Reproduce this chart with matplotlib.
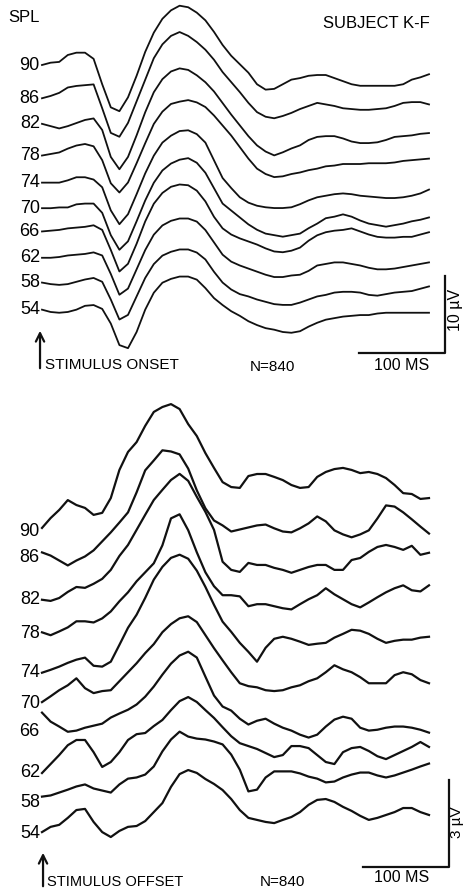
import matplotlib.pyplot as plt
import numpy as np

plt.rcParams['font.family'] = ['Liberation Sans', 'DejaVu Sans']

# time after stimulus (ms), shared by every trace
time_ms = np.arange(0, 460, 10)
spl_levels = [90, 86, 82, 78, 74, 70, 66, 62, 58, 54]

# onset responses, uV relative to each trace's stacking line (positive = up)
onset_90 = [0.0, 0.3, 0.4, 1.3, 1.6, 1.6, 0.8, -2.5, -5.5, -6.0, -4.2, -1.4, 1.7, 4.2, 6.0, 7.1, 7.7, 7.5, 6.8, 5.8,
            4.3, 2.6, 1.2, 0.1, -1.0, -2.5, -3.2, -3.1, -2.5, -1.9, -1.7, -1.4, -1.3, -1.3, -1.7, -2.1, -2.5, -2.7, -2.7, -2.7,
            -2.7, -2.7, -2.5, -1.9, -1.6, -1.2]
onset_86 = [-0.8, -0.5, -0.1, 0.6, 0.8, 0.9, 1.0, -2.1, -5.3, -5.8, -4.0, -1.2, 1.6, 4.4, 6.2, 7.3, 7.8, 7.3, 6.5, 5.5,
            4.2, 2.6, 1.3, 0.0, -1.4, -2.6, -3.2, -3.4, -3.1, -2.7, -2.2, -1.8, -1.4, -1.6, -1.8, -2.1, -2.2, -2.3, -2.3, -2.2,
            -2.1, -1.8, -1.4, -1.3, -1.3, -1.6]
onset_82 = [-0.6, -0.9, -1.2, -0.9, -0.5, -0.1, 0.1, -1.4, -4.9, -6.5, -4.9, -2.1, 0.9, 3.5, 5.2, 6.2, 6.6, 6.4, 5.7, 4.8,
            3.6, 2.1, 0.6, -0.8, -2.2, -3.4, -4.2, -4.7, -4.3, -3.8, -3.4, -2.7, -2.3, -2.2, -2.2, -2.5, -2.9, -3.1, -3.1, -3.0,
            -2.7, -2.3, -2.2, -2.1, -1.9, -1.8]
onset_78 = [-1.2, -1.0, -0.8, -0.3, 0.1, 0.3, 0.0, -1.8, -4.8, -6.0, -4.7, -2.2, 0.4, 2.9, 4.5, 5.5, 5.8, 6.0, 5.7, 5.1,
            4.0, 2.7, 1.4, -0.1, -1.6, -2.9, -3.6, -4.0, -3.9, -3.6, -3.4, -3.1, -2.9, -2.6, -2.5, -2.3, -2.3, -2.3, -2.2, -2.2,
            -2.2, -2.1, -1.9, -1.8, -1.7, -1.6]
onset_74 = [-1.2, -1.2, -1.2, -0.9, -0.5, -0.5, -0.8, -1.8, -4.8, -6.6, -5.3, -2.7, 0.0, 2.3, 4.0, 4.9, 5.5, 5.6, 5.1, 4.0,
            1.7, -0.6, -1.9, -3.1, -3.8, -4.2, -4.4, -4.5, -4.5, -4.4, -4.0, -3.5, -3.1, -2.9, -2.7, -2.6, -2.7, -2.9, -3.0, -3.1,
            -3.2, -3.2, -3.1, -2.9, -2.6, -2.1]
onset_70 = [-1.0, -1.0, -0.9, -0.9, -0.5, -0.4, -0.4, -1.6, -4.5, -6.4, -5.3, -2.7, 0.0, 2.3, 3.9, 4.8, 5.3, 5.5, 4.9, 3.6,
            1.6, -0.4, -1.3, -2.2, -3.1, -3.8, -4.3, -4.5, -4.7, -4.5, -4.3, -3.6, -3.0, -2.3, -2.1, -1.8, -2.1, -2.6, -3.0, -3.2,
            -3.4, -3.2, -3.0, -2.7, -2.5, -2.2]
onset_66 = [-0.5, -0.4, -0.3, -0.1, 0.0, 0.1, 0.3, -0.3, -2.9, -5.7, -4.7, -2.1, 0.8, 3.1, 4.5, 5.3, 5.6, 5.5, 4.8, 3.4,
            1.4, -0.1, -0.9, -1.4, -1.8, -2.2, -2.7, -3.1, -3.2, -3.0, -2.6, -1.7, -1.0, -0.6, -0.4, -0.3, -0.1, -0.5, -0.9, -1.2,
            -1.3, -1.3, -1.2, -1.2, -0.9, -0.6]
onset_62 = [-0.4, -0.4, -0.3, -0.1, 0.0, 0.1, 0.3, -0.1, -2.5, -5.2, -4.4, -1.9, 0.6, 2.6, 3.8, 4.4, 4.7, 4.7, 4.3, 3.2,
            1.6, 0.0, -0.9, -1.4, -1.8, -2.2, -2.6, -2.9, -2.9, -2.7, -2.6, -2.1, -1.4, -1.2, -1.0, -1.0, -1.2, -1.4, -1.7, -1.9,
            -1.9, -1.8, -1.6, -1.4, -1.2, -1.0]
onset_58 = [-0.1, -0.3, -0.4, -0.3, 0.0, 0.3, 0.5, 0.0, -2.3, -4.9, -4.3, -1.9, 0.5, 2.3, 3.4, 3.9, 4.2, 4.2, 3.8, 2.9,
            1.3, -0.1, -1.0, -1.6, -1.9, -2.3, -2.6, -2.9, -3.0, -3.0, -2.7, -2.3, -1.9, -1.7, -1.4, -1.3, -1.3, -1.4, -1.7, -1.8,
            -1.6, -1.4, -1.3, -1.2, -0.9, -0.6]
onset_54 = [-0.1, -0.4, -0.5, -0.4, -0.1, 0.4, 0.5, 0.0, -1.9, -4.7, -5.1, -3.0, -0.1, 2.1, 3.4, 3.9, 4.2, 4.2, 3.8, 2.7,
            1.4, 0.5, -0.3, -0.9, -1.6, -2.1, -2.5, -2.7, -3.0, -3.1, -2.9, -2.3, -1.8, -1.4, -1.2, -1.0, -0.9, -0.8, -0.8, -0.6,
            -0.5, -0.5, -0.5, -0.5, -0.5, -0.5]

# offset responses, uV relative to each trace's stacking line
offset_90 = [0.14, 0.48, 0.76, 1.10, 0.93, 0.83, 0.59, 0.66, 1.17, 2.14, 2.76, 3.10, 3.66, 4.14, 4.31, 4.41, 4.24, 3.72, 3.31, 2.72,
             2.21, 1.72, 1.55, 1.52, 1.93, 2.00, 2.00, 1.90, 1.79, 1.62, 1.52, 1.55, 1.90, 2.07, 2.17, 2.21, 2.14, 2.03, 2.07, 2.00,
             1.86, 1.62, 1.34, 1.31, 1.14, 1.17]
offset_86 = [0.45, 0.34, 0.17, 0.00, 0.17, 0.31, 0.52, 0.83, 1.14, 1.48, 1.83, 2.52, 3.28, 3.62, 3.97, 3.93, 3.83, 3.34, 2.59, 1.97,
             1.55, 1.38, 1.17, 1.24, 1.31, 1.38, 1.41, 1.28, 1.17, 1.14, 1.28, 1.45, 1.69, 1.52, 1.21, 1.07, 0.97, 1.07, 1.21, 1.62,
             2.07, 2.03, 1.83, 1.59, 1.34, 1.10]
offset_82 = [-0.03, -0.07, 0.03, 0.24, 0.41, 0.38, 0.52, 0.69, 1.00, 1.48, 1.86, 2.38, 2.90, 3.41, 3.76, 4.10, 4.31, 4.07, 3.52, 3.00,
             2.38, 1.28, 1.00, 0.93, 1.24, 1.17, 1.17, 1.07, 1.00, 0.90, 1.00, 1.10, 1.17, 1.17, 1.00, 1.00, 1.34, 1.41, 1.62, 1.79,
             1.86, 1.79, 1.69, 1.83, 1.52, 1.59]
offset_78 = [0.00, -0.10, 0.03, 0.17, 0.38, 0.38, 0.34, 0.48, 0.72, 1.07, 1.38, 1.76, 2.07, 2.38, 3.00, 3.93, 4.07, 3.52, 2.76, 2.07,
             1.59, 1.28, 1.28, 1.24, 0.90, 0.97, 0.97, 0.90, 0.83, 0.79, 0.97, 1.14, 1.28, 1.52, 1.31, 1.14, 0.97, 0.86, 1.03, 1.21,
             1.38, 1.52, 1.62, 1.45, 1.41, 1.62]
offset_74 = [-0.24, -0.14, -0.03, 0.10, 0.21, 0.28, 0.00, -0.03, 0.14, 0.72, 1.31, 1.76, 2.34, 2.97, 3.41, 3.72, 3.83, 3.69, 3.28, 2.72,
             2.10, 1.52, 1.17, 0.79, 0.48, 0.14, 0.62, 0.93, 1.00, 0.93, 0.83, 0.72, 0.76, 0.79, 0.97, 1.10, 1.24, 1.21, 1.10, 0.93,
             0.79, 0.86, 0.90, 0.90, 0.97, 1.00]
offset_70 = [-0.10, 0.10, 0.31, 0.48, 0.72, 0.38, 0.21, 0.28, 0.31, 0.62, 0.93, 1.24, 1.59, 1.90, 2.31, 2.59, 2.79, 2.86, 2.66, 2.21,
             1.76, 1.34, 0.93, 0.55, 0.45, 0.41, 0.31, 0.28, 0.31, 0.41, 0.48, 0.62, 0.72, 0.93, 1.17, 1.03, 0.93, 0.76, 0.55, 0.55,
             0.55, 0.83, 0.93, 0.86, 0.66, 0.55]
offset_66 = [0.69, 0.38, 0.21, 0.03, 0.07, 0.17, 0.24, 0.31, 0.52, 0.66, 0.79, 0.97, 1.24, 1.59, 2.00, 2.38, 2.66, 2.79, 2.59, 1.93,
             1.28, 0.90, 0.76, 0.48, 0.28, 0.41, 0.48, 0.31, 0.17, 0.07, -0.07, -0.17, -0.07, 0.21, 0.45, 0.55, 0.48, 0.17, 0.07, 0.10,
             0.17, 0.21, 0.21, 0.17, 0.10, 0.00]
offset_62 = [-0.24, 0.07, 0.38, 0.72, 0.90, 0.90, 0.48, -0.03, 0.14, 0.48, 0.90, 1.10, 1.14, 1.38, 1.59, 1.93, 2.24, 2.38, 2.21, 1.93,
             1.66, 1.34, 1.03, 0.79, 0.69, 0.59, 0.45, 0.31, 0.38, 0.69, 0.69, 0.62, 0.38, 0.14, 0.07, 0.48, 0.62, 0.66, 0.52, 0.34,
             0.24, 0.38, 0.52, 0.66, 0.83, 0.66]
offset_58 = [0.10, 0.14, 0.24, 0.34, 0.45, 0.52, 0.38, 0.31, 0.24, 0.52, 0.72, 0.76, 0.86, 1.14, 1.66, 2.07, 2.34, 2.17, 2.10, 2.07,
             2.00, 1.90, 1.55, 1.03, 0.28, 0.34, 0.76, 0.97, 0.97, 0.97, 0.90, 0.79, 0.72, 0.59, 0.62, 0.76, 0.86, 0.93, 0.93, 0.83,
             0.76, 0.83, 0.93, 1.03, 1.14, 1.24]
offset_54 = [0.03, 0.21, 0.28, 0.52, 0.79, 0.83, 0.38, 0.03, -0.14, 0.07, 0.21, 0.24, 0.41, 0.72, 1.03, 1.59, 2.03, 2.17, 2.07, 1.86,
             1.69, 1.48, 1.17, 0.79, 0.52, 0.45, 0.38, 0.34, 0.45, 0.55, 0.72, 0.97, 1.14, 1.17, 1.07, 0.90, 0.76, 0.59, 0.45, 0.52,
             0.62, 0.72, 0.86, 0.86, 0.72, 0.62]

onset = [onset_90, onset_86, onset_82, onset_78, onset_74, onset_70, onset_66, onset_62, onset_58, onset_54]
offset = [offset_90, offset_86, offset_82, offset_78, offset_74, offset_70, offset_66, offset_62, offset_58, offset_54]

# page geometry in pixels
W, H = 464, 893
X0 = 42          # stimulus time on the page
PX_MS = 0.86     # px per ms

# how far (px) each SPL label sits below its trace's first point
onset_label_drop = [0, 0, 0, 0, 0, 0, 0, 0, 0, 0]
offset_label_drop = [4, 5, 0, 1, 0, 1, 19, -1, 6, 1]

fig = plt.figure(figsize=(W / 100, H / 100), dpi=100)


def make_panel(top, bottom, px_uv, base):
    ax = fig.add_axes([0, 1 - bottom / H, 1, (bottom - top) / H])
    ax.set_xlim(-X0 / PX_MS, (W - X0) / PX_MS)
    ax.set_ylim((base - bottom) / px_uv, (base - top) / px_uv)
    ax.axis('off')
    return ax


panels = [
    # traces, label drops, top, bottom, px/uV, first baseline px, spacing px, lw
    (onset, onset_label_drop, 0, 380, 7.7, 65, 27.1, 1.3),
    (offset, offset_label_drop, 380, 893, 29.0, 532, 33.44, 1.6),
]
axes = []
for traces, drops, top, bottom, px_uv, base, gap, lw in panels:
    ax = make_panel(top, bottom, px_uv, base)
    step = gap / px_uv
    for k, (spl, tr, dr) in enumerate(zip(spl_levels, traces, drops)):
        y = np.array(tr) - k * step
        ax.plot(time_ms, y, color='#111111', lw=lw, solid_joinstyle='round')
        ax.text(-2.5, y[0] - dr / px_uv, str(spl), ha='right', va='center', fontsize=13)
    axes.append((ax, px_uv, base))

# top panel decorations
ax, px_uv, base = axes[0]
def v(py):
    return (base - py) / px_uv
ax.plot([368.6, 468.6, 468.6], [v(353), v(353), v(353) + 10], color='#111111', lw=1.6)
ax.text(468.6 + 11 / PX_MS, v(353) + 5.6, '10 µV', rotation=90, ha='center', va='center', fontsize=11.5)
ax.annotate('', xy=(-2.3, v(328)), xytext=(-2.3, v(371)),
            arrowprops=dict(arrowstyle='->,head_length=0.6,head_width=0.3', lw=1.6, color='#111111'))
ax.text(3, v(365), 'STIMULUS ONSET', ha='left', va='center', fontsize=11)
ax.text((250 - X0) / PX_MS, v(367), 'N=840', ha='left', va='center', fontsize=11)
ax.text((402 - X0) / PX_MS, v(365), '100 MS', ha='center', va='center', fontsize=11.5)
ax.text((8 - X0) / PX_MS, v(18), 'SPL', ha='left', va='center', fontsize=12)
ax.text((430 - X0) / PX_MS, v(23), 'SUBJECT K-F', ha='right', va='center', fontsize=12)

# bottom panel decorations
ax, px_uv, base = axes[1]
ax.plot([373.3, 473.3, 473.3], [v(867), v(867), v(867) + 3], color='#111111', lw=1.6)
ax.text((457 - X0) / PX_MS, v(822), '3 µV', rotation=90, ha='center', va='center', fontsize=11)
ax.annotate('', xy=(1.2, v(850)), xytext=(1.2, v(889)),
            arrowprops=dict(arrowstyle='->,head_length=0.6,head_width=0.3', lw=1.6, color='#111111'))
ax.text(6, v(882), 'STIMULUS OFFSET', ha='left', va='center', fontsize=10.5)
ax.text((260 - X0) / PX_MS, v(882), 'N=840', ha='left', va='center', fontsize=11)
ax.text((402 - X0) / PX_MS, v(878), '100 MS', ha='center', va='center', fontsize=11.5)

fig.savefig('out.png', dpi=100, facecolor='white')
